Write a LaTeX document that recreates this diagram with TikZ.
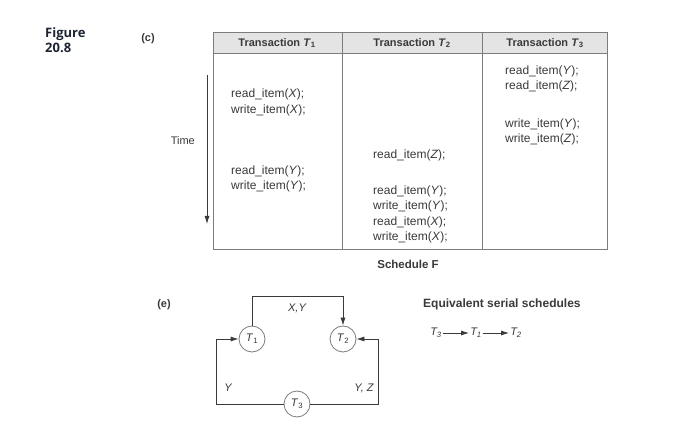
\documentclass[tikz,border=0pt]{standalone}
\usepackage{fontspec}
\setmainfont{Liberation Sans}
\newfontfamily\figfont{Open Sans}
\usetikzlibrary{arrows.meta}
\definecolor{txtgray}{HTML}{3A3A3A}
\definecolor{hdrgray}{HTML}{E4E4E4}
\definecolor{rulegray}{HTML}{7C7C7C}
\definecolor{figblue}{HTML}{1E2433}
\newcommand\readop[1]{read\_item(\textit{#1});}
\newcommand\writeop[1]{write\_item(\textit{#1});}
\tikzset{
  op/.style={anchor=west, inner sep=0pt, font=\fontsize{12}{14}\selectfont, text=txtgray},
  hdr/.style={inner sep=0pt, font=\fontsize{11}{13}\selectfont\bfseries, text=txtgray},
  txn/.style={circle, draw=rulegray, line width=0.8pt, minimum size=26pt, inner sep=0pt,
    font=\fontsize{11}{13}\selectfont, text=txtgray},
  lbl/.style={inner sep=0pt, font=\fontsize{11}{13}\selectfont\itshape, text=txtgray},
  edge/.style={draw=txtgray, line width=0.8pt, -{Latex[length=8pt,width=5pt]}}
}
\begin{document}
\begin{tikzpicture}[x=1pt,y=-1pt]
  \useasboundingbox[fill=white] (0,0) rectangle (686,446);
  % Figure number and part labels
  \node[anchor=west, inner sep=0pt, align=left, text=figblue,
    font=\figfont\fontsize{13}{15}\selectfont\bfseries] (fig) at (45,40) {Figure\\20.8};
  \node[inner sep=0pt, font=\fontsize{11}{13}\selectfont\bfseries, text=txtgray] (partc) at (148,39) {(c)};
  \node[inner sep=0pt, font=\fontsize{11}{13}\selectfont\bfseries, text=txtgray] (parte) at (164,305) {(e)};
  % Schedule table
  \fill[hdrgray] (213,32) rectangle (607,53);
  \draw[rulegray, line width=0.8pt] (213,32) rectangle (607,249);
  \draw[rulegray, line width=0.8pt] (213,53) -- (607,53);
  \foreach \x in {342,482} { \draw[rulegray, line width=0.8pt] (\x,32) -- (\x,249); }
  % Column heads
  \node[hdr] (h1) at (277,43) {Transaction \textit{T}\textsubscript{1}};
  \node[hdr] (h2) at (412,43) {Transaction \textit{T}\textsubscript{2}};
  \node[hdr] (h3) at (545,43) {Transaction \textit{T}\textsubscript{3}};
  % Operations of T1
  \node[op] (a1) at (231,94) {\readop{X}};
  \node[op] (a2) at (231,110) {\writeop{X}};
  \node[op] (a3) at (231,171) {\readop{Y}};
  \node[op] (a4) at (231,186) {\writeop{Y}};
  % Operations of T2
  \node[op] (b1) at (373,155) {\readop{Z}};
  \node[op] (b2) at (373,191) {\readop{Y}};
  \node[op] (b3) at (373,206) {\writeop{Y}};
  \node[op] (b4) at (373,222) {\readop{X}};
  \node[op] (b5) at (373,237) {\writeop{X}};
  % Operations of T3
  \node[op] (c1) at (505,71) {\readop{Y}};
  \node[op] (c2) at (505,86) {\readop{Z}};
  \node[op] (c3) at (505,124) {\writeop{Y}};
  \node[op] (c4) at (505,139) {\writeop{Z}};
  % Time axis
  \node[anchor=east, inner sep=0pt, font=\fontsize{11}{13}\selectfont, text=txtgray] (time) at (195,141) {Time};
  \coordinate (tstart) at (207,75);
  \coordinate (tend) at (207,224);
  \draw[txtgray, line width=0.8pt, -{Latex[length=8pt,width=5pt]}] (tstart) -- (tend);
  \node[inner sep=0pt, font=\fontsize{11.5}{14}\selectfont\bfseries, text=txtgray] (schedf) at (408,264) {Schedule F};
  % Precedence graph
  \node[txn] (T1) at (252,339) {\textit{T}\textsubscript{1}};
  \node[txn] (T2) at (343,339) {\textit{T}\textsubscript{2}};
  \node[txn] (T3) at (297,404) {\textit{T}\textsubscript{3}};
  \draw[edge] (T1.north) -- ++(0,-29) -| (T2.north);
  \draw[edge] (T3.west) -- ++(-67,0) |- (T1.west);
  \draw[edge] (T3.east) -- ++(68,0) |- (T2.east);
  \node[lbl] (xy) at (297,308) {X,Y};
  \node[lbl] (y) at (228,388) {Y};
  \node[lbl] (yz) at (364,388) {Y, Z};
  % Serial order
  \node[anchor=west, inner sep=0pt, font=\fontsize{12}{14}\selectfont\bfseries, text=txtgray] (equiv) at (423,304) {Equivalent serial schedules};
  \node[lbl, inner sep=1pt] (s3) at (436,333) {\textit{T}\textsubscript{3}};
  \node[lbl, inner sep=1pt] (s1) at (476,333) {\textit{T}\textsubscript{1}};
  \node[lbl, inner sep=1pt] (s2) at (516,333) {\textit{T}\textsubscript{2}};
  \draw[edge] (s3) -- (s1);
  \draw[edge] (s1) -- (s2);
\end{tikzpicture}
\end{document}
